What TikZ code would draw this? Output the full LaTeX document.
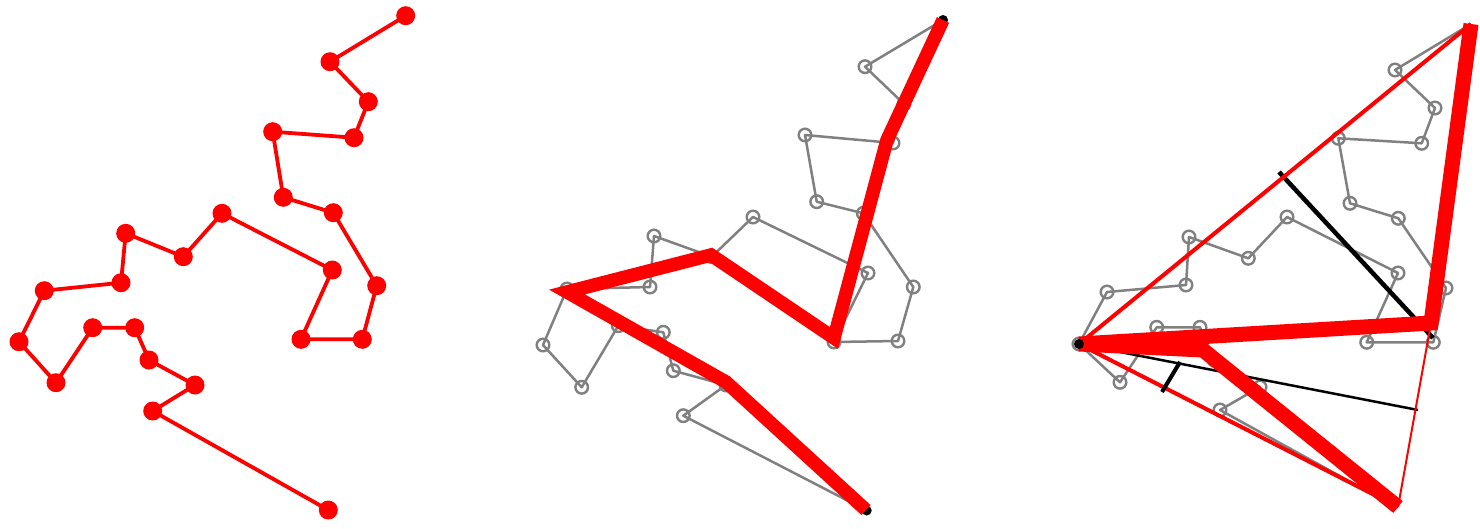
\documentclass[tikz,border=0pt]{standalone}
\begin{document}
\begin{tikzpicture}[x=1pt,y=-1pt,
  redpath/.style={draw=red, line width=3.8pt, line join=round},
  graypath/.style={draw=gray, line width=2.5pt, line join=round},
  graycirc/.style={draw=gray, line width=2.4pt},
  thickred/.style={draw=red, line width=13.5pt, line join=miter, miter limit=10},
  thickredR/.style={draw=red, line width=15pt, line join=miter, miter limit=10},
  thinred/.style={draw=red, line width=4pt},
  hairred/.style={draw=red, line width=2pt},
  blackthick/.style={draw=black, line width=4.5pt},
  blackthin/.style={draw=black, line width=2.5pt}]
\useasboundingbox (0,0) rectangle (1480,528);
% ---------- left panel points ----------
\foreach \n/\px/\py in {1/405.7/15.7, 2/330/61.7, 3/368.3/101.7, 4/354/137.7, 5/272.7/131.7,
  6/283.3/197.3, 7/333.3/212.7, 8/376.7/285.7, 9/362.3/339.3, 10/301/339.3, 11/332.3/270,
  12/222/213.3, 13/183.3/256.7, 14/125.7/233.3, 15/121/282.7, 16/44.3/290.7, 17/19/341.7,
  18/56/382.7, 19/92.7/327.7, 20/134.7/327.7, 21/149/360, 22/195/385, 23/152.7/411, 24/328.3/510}
  {\coordinate (L\n) at (\px,\py);}
% ---------- middle panel points ----------
\foreach \n/\px/\py in {1/943/20, 2/865/66.7, 3/904/104, 4/893/143, 5/805/135,
  6/816.7/201.7, 7/863.3/213.3, 8/913.3/287, 9/898/341, 10/834/342, 11/868/273,
  12/753/217, 13/711.7/256.7, 14/654/236, 15/650/287, 16/567/289, 17/543/345,
  18/581.7/387.3, 19/618.3/325.7, 20/663.3/332.3, 21/673.3/370.7, 22/726/385, 23/683.3/415.7, 24/866.7/510.5}
  {\coordinate (M\n) at (\px,\py);}
% ---------- right panel points ----------
\foreach \n/\px/\py in {1/1471/24, 2/1395/70, 3/1435/108, 4/1421.7/143.3, 5/1338.3/138.3,
  6/1350/203.3, 7/1398.3/218.3, 8/1446/288, 9/1433.3/342.3, 10/1366.7/342.3, 11/1398/273,
  12/1287/217, 13/1248.3/258.3, 14/1189/237, 15/1186/285, 16/1107/292, 17/1079/344,
  18/1120/382.3, 19/1156.7/327.3, 20/1200/327.3, 21/1214/360, 22/1260/387, 23/1220/410, 24/1396/507}
  {\coordinate (N\n) at (\px,\py);}
% ---------- left panel ----------
\draw[redpath] (L1) \foreach \i in {2,...,24} {-- (L\i)};
\foreach \i in {1,...,24} {\fill[red] (L\i) circle[radius=9.5];}
% ---------- middle panel ----------
\draw[graypath] (M1) \foreach \i in {2,...,24} {-- (M\i)};
\foreach \i in {2,...,23} {\draw[graycirc] (M\i) circle[radius=6.3];}
\fill[black] (M1) circle[radius=5];
\fill[black] (M24) circle[radius=5];
\coordinate (R1) at (943,20);
\coordinate (R2) at (887,140);
\coordinate (R3) at (834,338);
\coordinate (R4) at (711,255);
\coordinate (R5) at (567,292);
\coordinate (R6) at (726,382);
\coordinate (R7) at (866,510);
\draw[thickred] (R1) -- (R2) -- (R3) -- (R4) -- (R5) -- (R6) -- (R7);
% ---------- right panel ----------
\draw[graypath] (N1) \foreach \i in {2,...,24} {-- (N\i)};
\foreach \i in {2,...,23} {\draw[graycirc] (N\i) circle[radius=6.3];}
\coordinate (B1a) at (1279,172);
\coordinate (B1b) at (1433,338);
\coordinate (B2b) at (1418,410);
\coordinate (B3a) at (1162,392);
\coordinate (B3b) at (1180,362);
\draw[blackthick] (B1a) -- (B1b);
\draw[blackthin] (N17) -- (B2b);
\coordinate (T1) at (1471,24);
\coordinate (T2) at (1431,323);
\coordinate (T4) at (1203,350);
\coordinate (T5) at (1398,507);
\draw[thinred] (T1) -- (N17) -- (T5);
\draw[hairred] (T5) -- (T2);
\draw[thickredR] (T1) -- (T2) -- (N17) -- (T4) -- (T5);
\draw[blackthick, line width=4pt] (B3a) -- (B3b);
\fill[black] (N17) circle[radius=5];
\end{tikzpicture}
\end{document}
